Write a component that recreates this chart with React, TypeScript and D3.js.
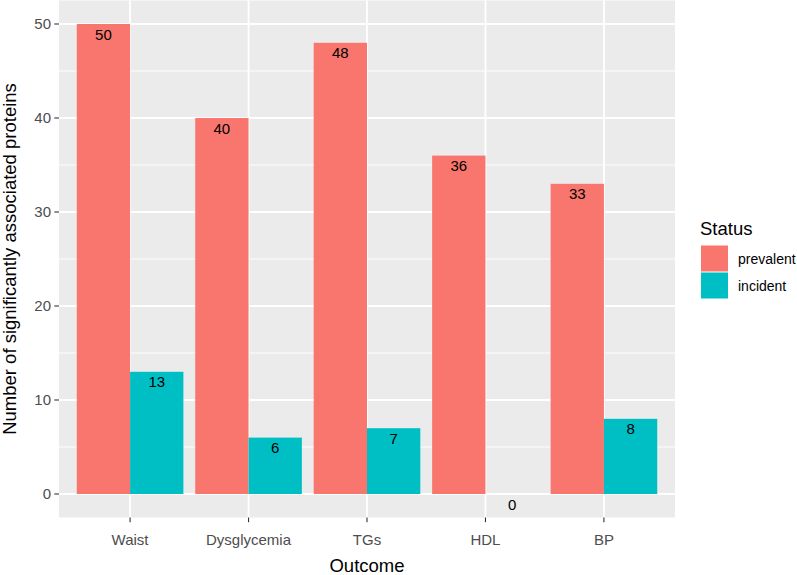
import React from "react";
import * as d3 from "d3";

const categories = ["Waist", "Dysglycemia", "TGs", "HDL", "BP"];
const statuses = ["prevalent", "incident"];
const prevalentValues = [50, 40, 48, 36, 33];
const incidentValues = [13, 6, 7, 0, 8];
const yTicks = [0, 10, 20, 30, 40, 50];
const yMinorTicks = [5, 15, 25, 35, 45];
const colors = ["#F8766D", "#00BFC4"];

const W = 797;
const H = 575;
const panel = { left: 59, right: 675, top: 0.5, bottom: 517.5 };
const font = "'Liberation Sans', Arial, Helvetica, sans-serif";

export default function App() {
  const seriesValues = [prevalentValues, incidentValues];
  const y = d3.scaleLinear().domain([-2.5, 52.5]).range([panel.bottom, panel.top]);
  const xPos = d3
    .scaleLinear()
    .domain([0.4, categories.length + 0.6])
    .range([panel.left, panel.right]);
  const unit = xPos(1) - xPos(0);
  const x0 = (i: number) => xPos(i + 1);
  const xs = d3.scaleBand().domain(statuses).range([-0.45 * unit, 0.45 * unit]).padding(0);

  return (
    <svg width={W} height={H} style={{ position: "absolute", left: 0, top: 0 }}>
      <rect x={0} y={0} width={W} height={H} fill="#fff" />
      <rect
        x={panel.left}
        y={panel.top}
        width={panel.right - panel.left}
        height={panel.bottom - panel.top}
        fill="#EBEBEB"
      />
      {yMinorTicks.map((t) => (
        <line key={"m" + t} x1={panel.left} x2={panel.right} y1={y(t)} y2={y(t)} stroke="#fff" strokeWidth={0.9} />
      ))}
      {yTicks.map((t) => (
        <line key={"M" + t} x1={panel.left} x2={panel.right} y1={y(t)} y2={y(t)} stroke="#fff" strokeWidth={1.8} />
      ))}
      {categories.map((c, i) => (
        <line key={"v" + c} x1={x0(i)} x2={x0(i)} y1={panel.top} y2={panel.bottom} stroke="#fff" strokeWidth={1.8} />
      ))}
      {categories.map((c, i) =>
        statuses.map((s, j) => {
          const v = seriesValues[j][i];
          const bx = x0(i) + (xs(s) as number);
          return (
            <rect
              key={c + s}
              x={bx}
              y={y(v)}
              width={xs.bandwidth()}
              height={y(0) - y(v)}
              fill={colors[j]}
            />
          );
        })
      )}
      {categories.map((c, i) =>
        statuses.map((s, j) => {
          const v = seriesValues[j][i];
          const cx = x0(i) + (xs(s) as number) + xs.bandwidth() / 2;
          return (
            <text
              key={"l" + c + s}
              x={cx}
              y={y(v) + 15.5}
              textAnchor="middle"
              fontFamily={font}
              fontSize={15}
              fill="#000"
            >
              {v}
            </text>
          );
        })
      )}
      {/* y axis */}
      {yTicks.map((t) => (
        <g key={"yt" + t}>
          <line x1={panel.left - 4.7} x2={panel.left} y1={y(t)} y2={y(t)} stroke="#333" strokeWidth={1.1} />
          <text
            x={panel.left - 8}
            y={y(t)}
            dy="0.36em"
            textAnchor="end"
            fontFamily={font}
            fontSize={15}
            fill="#4D4D4D"
          >
            {t}
          </text>
        </g>
      ))}
      {/* x axis */}
      {categories.map((c, i) => (
        <g key={"xt" + c}>
          <line x1={x0(i)} x2={x0(i)} y1={panel.bottom} y2={panel.bottom + 4.7} stroke="#333" strokeWidth={1.1} />
          <text x={x0(i)} y={545} textAnchor="middle" fontFamily={font} fontSize={15} fill="#4D4D4D">
            {c}
          </text>
        </g>
      ))}
      <text
        x={(panel.left + panel.right) / 2}
        y={572}
        textAnchor="middle"
        fontFamily={font}
        fontSize={18.5}
        fill="#000"
      >
        Outcome
      </text>
      <text
        transform={`translate(16, ${(panel.top + panel.bottom) / 2}) rotate(-90)`}
        textAnchor="middle"
        fontFamily={font}
        fontSize={18.5}
        fill="#000"
      >
        Number of significantly associated proteins
      </text>
      {/* legend */}
      <text x={700} y={235} fontFamily={font} fontSize={18.5} fill="#000">
        Status
      </text>
      {statuses.map((s, j) => (
        <g key={"lg" + s}>
          <rect x={701} y={245.5 + j * 27} width={27} height={26} fill={colors[j]} />
          <text x={738} y={245.5 + j * 27 + 13} dy="0.36em" fontFamily={font} fontSize={14} fill="#000">
            {s}
          </text>
        </g>
      ))}
    </svg>
  );
}
